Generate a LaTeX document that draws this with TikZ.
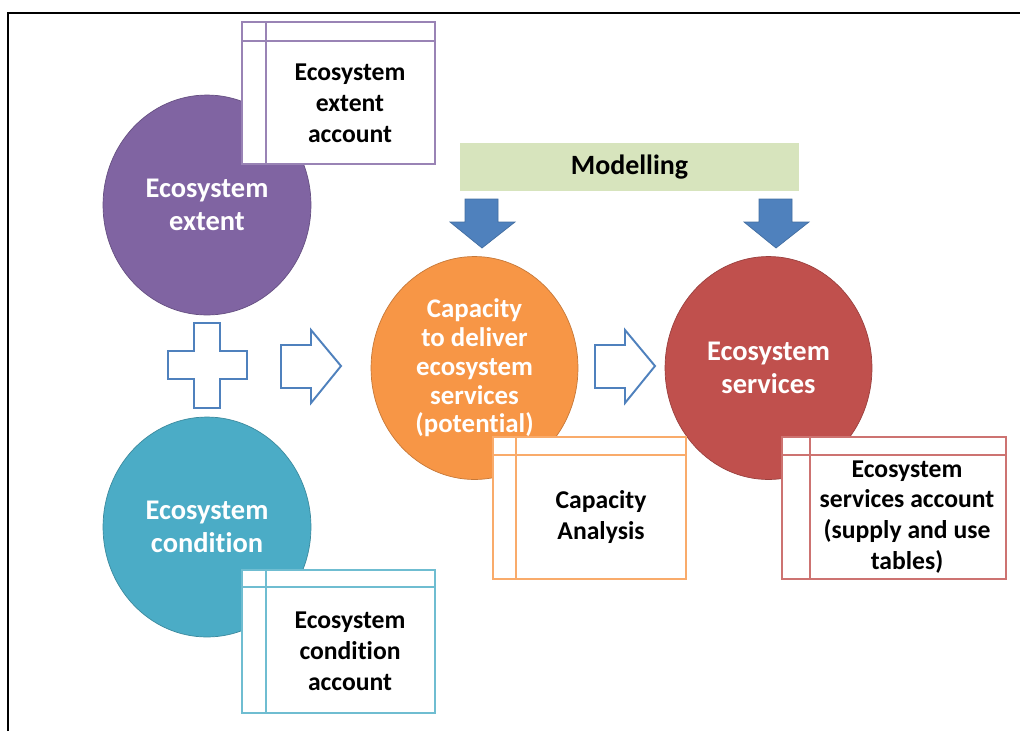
\documentclass[tikz,border=0pt]{standalone}
\usepackage{fontspec}
\setmainfont{Carlito}[Ligatures=NoCommon]
\usetikzlibrary{shapes.geometric}
\definecolor{extentcol}{HTML}{8064A2}
\definecolor{condcol}{HTML}{4BACC6}
\definecolor{capcol}{HTML}{F79646}
\definecolor{servcol}{HTML}{C0504D}
\definecolor{arrowblue}{HTML}{4F81BD}
\definecolor{modelgreen}{HTML}{D7E4BD}
\tikzset{
  eco/.style={ellipse,draw=#1!80!black,fill=#1,text=white,inner sep=0pt,
    minimum width=4.16cm,minimum height=4.4cm,align=center,
    font=\fontsize{16.2}{18.6}\selectfont\bfseries},
  accbox/.style={draw=#1!80!white,line width=1.3pt,fill=white},
  accline/.style={draw=#1!80!white,line width=1.3pt},
  acctext/.style={align=center,font=\fontsize{14.6}{17.6}\selectfont\bfseries},
  hollow/.style={draw=arrowblue,line width=1.1pt,fill=white,line join=miter},
}
\begin{document}
\begin{tikzpicture}[x=0.02cm,y=-0.02cm]
   \useasboundingbox (0,0) rectangle (1020,731);
   \draw[line width=1.2pt] (8,731) -- (8,13) -- (1020,13);

   % circles
   \node[eco=extentcol] (extent) at (207,205) {Ecosystem\\extent};
   \node[eco=condcol] (condition) at (207,527) {Ecosystem\\condition};
   \node[eco=capcol,minimum width=4.14cm,minimum height=4.46cm,
      font=\fontsize{15.3}{16.4}\selectfont\bfseries] (capacity) at (474.5,368)
      {Capacity\\to deliver\\ecosystem\\services\\(potential)};
   \node[eco=servcol,minimum width=4.14cm,minimum height=4.46cm] (services) at (768.5,368) {Ecosystem\\services};

   % accounts
   \draw[accbox=extentcol] (242,22) rectangle (435,164);
   \draw[accline=extentcol] (266,22) -- (266,164) (242,41) -- (435,41);
   \node[acctext] (extentacc) at (350,103) {Ecosystem\\extent\\account};

   \draw[accbox=condcol] (242,570) rectangle (435,713);
   \draw[accline=condcol] (266,570) -- (266,713) (242,587) -- (435,587);
   \node[acctext] (condacc) at (350,651) {Ecosystem\\condition\\account};

   \draw[accbox=capcol] (493,437) rectangle (686,579);
   \draw[accline=capcol] (516,437) -- (516,579) (493,455) -- (686,455);
   \node[acctext] (capacc) at (601,517) {Capacity\\Analysis};

   \draw[accbox=servcol] (782,437) rectangle (1006,579);
   \draw[accline=servcol] (810,437) -- (810,579) (782,455) -- (1006,455);
   \node[acctext] (servacc) at (907,517) {Ecosystem\\services account\\(supply and use\\tables)};

   % plus and arrows
   \draw[hollow] (194,323) -- (220,323) -- (220,351) -- (247,351) -- (247,379) -- (220,379)
      -- (220,408) -- (194,408) -- (194,379) -- (168,379) -- (168,351) -- (194,351) -- cycle;
   \foreach \ax in {281,595}
      \draw[hollow] (\ax,345) -- (\ax+30,345) -- (\ax+30,330) -- (\ax+60,366)
         -- (\ax+30,403) -- (\ax+30,388) -- (\ax,388) -- cycle;

   % modelling
   \node[fill=modelgreen,minimum width=6.78cm,minimum height=0.96cm,
      font=\fontsize{15.9}{18}\selectfont\bfseries] (model) at (629.5,167) {Modelling};
   \foreach \ax in {482,776}
      \filldraw[fill=arrowblue,draw=arrowblue!85!black,line width=0.4pt]
         (\ax-17,199) -- (\ax+16,199) -- (\ax+16,222) -- (\ax+33,222) -- (\ax,248)
         -- (\ax-32,222) -- (\ax-17,222) -- cycle;
\end{tikzpicture}
\end{document}
